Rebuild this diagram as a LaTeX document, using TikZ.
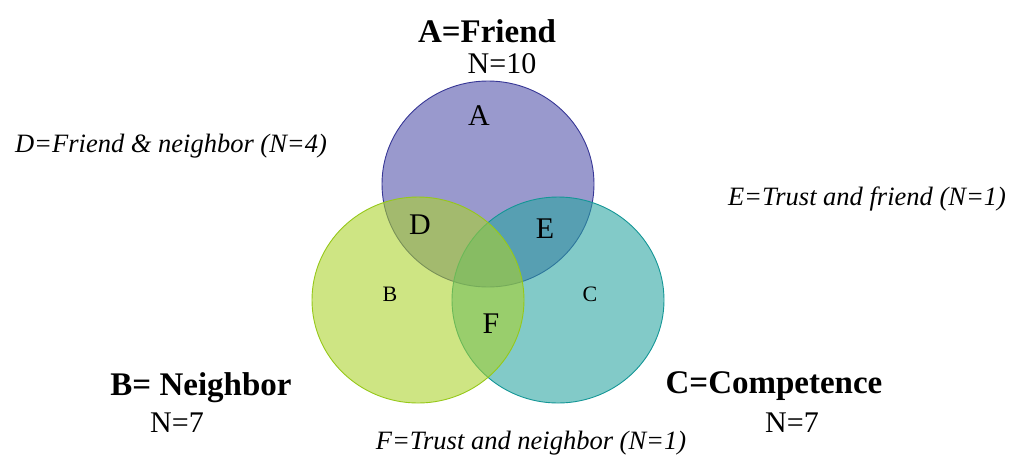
\documentclass[tikz,border=0pt]{standalone}
\usepackage{fontspec}
\setmainfont{Liberation Serif}
\usepackage{xcolor}
\usetikzlibrary{positioning}
\definecolor{friendfill}{RGB}{80,80,168}
\definecolor{friendline}{RGB}{55,55,150}
\definecolor{neighfill}{RGB}{170,210,42}
\definecolor{neighline}{RGB}{150,200,25}
\definecolor{compfill}{RGB}{39,164,160}
\definecolor{compline}{RGB}{20,150,150}

\begin{document}
\begin{tikzpicture}[x=1pt,y=-1pt,
  setcircle/.style={fill opacity=0.58,draw opacity=1,line width=0.9pt},
  settitle/.style={anchor=base,font=\fontsize{33}{36}\selectfont\bfseries},
  setcount/.style={anchor=base,font=\fontsize{30}{32}\selectfont},
  bigletter/.style={anchor=base,font=\fontsize{30}{32}\selectfont},
  smallletter/.style={anchor=base,font=\fontsize{22}{24}\selectfont},
  overlapnote/.style={anchor=base,font=\fontsize{26.5}{28}\selectfont\itshape}]
\useasboundingbox (0,0) rectangle (1019,456);
% the three sets (B is laid over C)
\filldraw[setcircle,fill=friendfill,draw=friendline] (488,184) ellipse [x radius=106,y radius=103];
\filldraw[setcircle,fill=compfill,draw=compline] (558,300) ellipse [x radius=106,y radius=103];
\filldraw[setcircle,fill=neighfill,draw=neighline] (418,300) ellipse [x radius=106,y radius=103];
% set titles
\node[settitle] (friend) at (487,42) {A=Friend};
\node[setcount] (friendn) at (502,73) {N=10};
\node[settitle] (neighbor) at (201,395) {B= Neighbor};
\node[setcount] (neighborn) at (177,432) {N=7};
\node[settitle] (competence) at (774,393) {C=Competence};
\node[setcount] (competencen) at (792,432) {N=7};
% region letters
\node[bigletter] (ra) at (479,125) {A};
\node[smallletter] (rb) at (390,301) {B};
\node[smallletter] (rc) at (590,301) {C};
\node[bigletter] (rd) at (420,234) {D};
\node[bigletter] (re) at (545,238) {E};
\node[bigletter] (rf) at (491,333) {F};
% overlaps
\node[overlapnote] (noted) at (171,152) {D=Friend \& neighbor (N=4)};
\node[overlapnote] (notee) at (867,205) {E=Trust and friend (N=1)};
\node[overlapnote] (notef) at (531,449) {F=Trust and neighbor (N=1)};
\end{tikzpicture}
\end{document}
